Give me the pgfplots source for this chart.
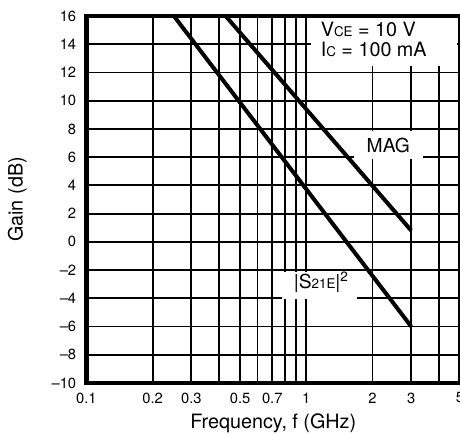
\documentclass[border=0pt]{standalone}
\usepackage{pgfplots}
\pgfplotsset{compat=1.18}
\usepackage{fontspec}
\setmainfont{TeX Gyre Heros}

\begin{document}
\begin{tikzpicture}
\begin{axis}[
  scale only axis,
  width=223pt,
  height=219pt,
  xmode=log,
  xmin=0.1, xmax=5,
  ymin=-10, ymax=16,
  xtick={0.1,0.2,0.3,0.5,0.7,1,2,3,5},
  xticklabels={0.1,0.2,0.3,0.5,0.7,1,2,3,5},
  minor xtick={0.4,0.6,0.8,0.9,4},
  ytick={-10,-8,...,16},
  yticklabels={–10,–8,–6,–4,–2,0,2,4,6,8,10,12,14,16},
  grid=both,
  major grid style={black, line width=1.1pt},
  minor grid style={black, line width=1.1pt},
  major tick length=0pt,
  minor tick length=0pt,
  axis line style={line width=2.6pt},
  tick label style={font=\fontsize{8.8}{10}\selectfont},
  xticklabel style={yshift=-2.2pt},
  yticklabel style={xshift=-2.6pt},
  xlabel={Frequency, f (GHz)},
  xlabel style={font=\fontsize{11.8}{13}\selectfont, at={(axis description cs:0.5,0)},
    anchor=north, inner sep=0pt, yshift=-18pt},
]
% MAG
\addplot[black, line width=2.4pt] coordinates {(0.43,16) (3,0.8)};
% |S21E|^2
\addplot[black, line width=2.4pt] coordinates {(0.25,16) (3,-6)};

% white background for the bias conditions
\fill[white] (axis cs:1.054,12.44) rectangle ([yshift=-1.4pt]axis cs:4.85,16);
\node[anchor=north west, align=left, inner sep=0pt,
      font=\fontsize{11.8}{12}\selectfont]
  at ([yshift=-3.6pt]axis cs:1.16,16) {V{\fontsize{8}{9}\selectfont CE} = 10 V\\I{\fontsize{8}{9}\selectfont C} = 100 mA};

\node[fill=white, minimum width=41pt, minimum height=16.4pt, inner sep=0pt,
      font=\fontsize{11.5}{12}\selectfont] at (axis cs:2.36,6.85) {MAG};

\node[fill=white, minimum width=45pt, minimum height=16pt, inner sep=0pt]
  at (axis cs:1.15,-3.1) {};
\node[inner sep=0pt, font=\fontsize{11.5}{12}\selectfont]
  at (axis cs:1.17,-2.85) {|S{\fontsize{8}{9}\selectfont 21E}|\textsuperscript{2}};

\coordinate (sw) at (rel axis cs:0,0);
\coordinate (ne) at (rel axis cs:1,1);
\coordinate (ml) at (rel axis cs:0,0.5);
\end{axis}
\node[rotate=90, anchor=south, inner sep=0pt, font=\fontsize{11.8}{13}\selectfont]
  at ([xshift=-35.4pt]ml) {Gain (dB)};
\pgfresetboundingbox
\path[use as bounding box] ([shift={(-51.6pt,-30.6pt)}]sw) rectangle ([yshift=9.6pt]ne);
\end{tikzpicture}
\end{document}
